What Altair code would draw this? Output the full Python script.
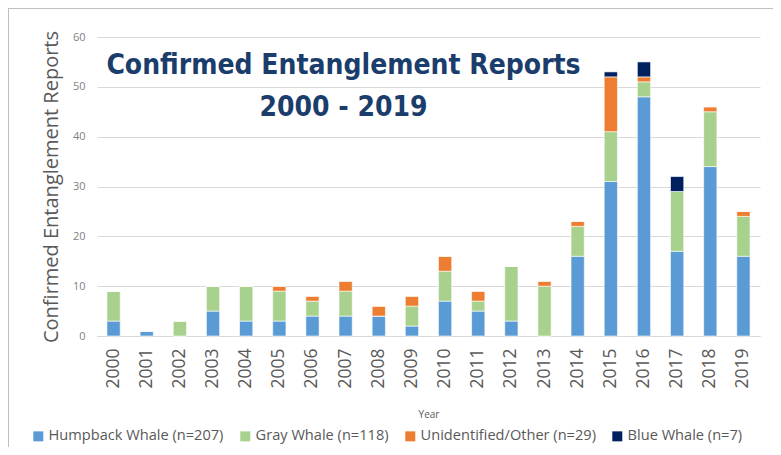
import altair as alt
import pandas as pd

years = [str(y) for y in range(2000, 2020)]
humpback = [3, 1, 0, 5, 3, 3, 4, 4, 4, 2, 7, 5, 3, 0, 16, 31, 48, 17, 34, 16]
gray = [6, 0, 3, 5, 7, 6, 3, 5, 0, 4, 6, 2, 11, 10, 6, 10, 3, 12, 11, 8]
unidentified = [0, 0, 0, 0, 0, 1, 1, 2, 2, 2, 3, 2, 0, 1, 1, 11, 1, 0, 1, 1]
blue = [0, 0, 0, 0, 0, 0, 0, 0, 0, 0, 0, 0, 0, 0, 0, 1, 3, 3, 0, 0]

series_names = ["Humpback Whale (n=207)", "Gray Whale (n=118)",
                "Unidentified/Other (n=29)", "Blue Whale (n=7)"]
series_colors = ["#5b9bd5", "#a9d18e", "#ed7d31", "#002060"]
series_values = [humpback, gray, unidentified, blue]

title_lines = ["Confirmed Entanglement Reports", "2000 - 2019"]

rows = []
for si, (name, vals) in enumerate(zip(series_names, series_values)):
    for y, v in zip(years, vals):
        rows.append({"Year": y, "Series": name, "Count": v, "idx": si})
df = pd.DataFrame(rows)

bars = alt.Chart(df).mark_bar(stroke="white", strokeWidth=0.6).encode(
    x=alt.X("Year:N", sort=years,
            scale=alt.Scale(paddingInner=0.6, paddingOuter=0.3),
            axis=alt.Axis(title="Year", labelAngle=-90, labelFont="Open Sans",
                          labelFontSize=17.5, labelColor="#595959",
                          labelPadding=12, ticks=False, domainColor="#d9d9d9",
                          titleFont="Open Sans", titleFontSize=10,
                          titleFontWeight="normal", titleColor="#595959",
                          titlePadding=21)),
    y=alt.Y("sum(Count):Q", stack="zero",
            scale=alt.Scale(domain=[0, 60]),
            axis=alt.Axis(title="Confirmed Entanglement Reports", values=[0, 10, 20, 30, 40, 50, 60],
                          labelFont="Open Sans", labelFontSize=11, labelColor="#7f7f7f",
                          labelPadding=12, ticks=False, domain=False,
                          gridColor="#d9d9d9", gridWidth=1,
                          titleFont="Open Sans", titleFontSize=20,
                          titleFontWeight="normal", titleColor="#595959",
                          titlePadding=11)),
    color=alt.Color("Series:N",
                    scale=alt.Scale(domain=series_names, range=series_colors),
                    legend=alt.Legend(title=None, orient="none", direction="horizontal",
                                      legendX=-66, legendY=392,
                                      symbolType="square", symbolSize=100,
                                      symbolStrokeWidth=0, labelFont="Open Sans",
                                      labelFontSize=14.6, labelColor="#595959",
                                      labelOffset=3, columnPadding=14, labelLimit=400)),
    order=alt.Order("idx:Q", sort="ascending"),
)

frame_left = alt.Chart(df).mark_rule(color="#bfbfbf", strokeWidth=1).encode(
    x=alt.value(-88.5), y=alt.value(-28.5), y2=alt.value(410))
frame_top = alt.Chart(df).mark_rule(color="#bfbfbf", strokeWidth=1).encode(
    x=alt.value(-88.5), x2=alt.value(680), y=alt.value(-28.5))

chart = alt.layer(bars, frame_left, frame_top).properties(
    width=663, height=299,
    title=alt.TitleParams(text=title_lines, font="DejaVu Sans Condensed",
                          fontSize=28, fontWeight="bold", color="#1b3d6b",
                          anchor="middle", dx=-85, dy=118, lineHeight=42),
    autosize=alt.AutoSizeParams(type="none"),
    padding={"left": 89, "top": 29, "right": 13, "bottom": 111},
).configure_view(stroke=None)

chart.save("out.html", embed_options={"renderer": "svg", "actions": False})
